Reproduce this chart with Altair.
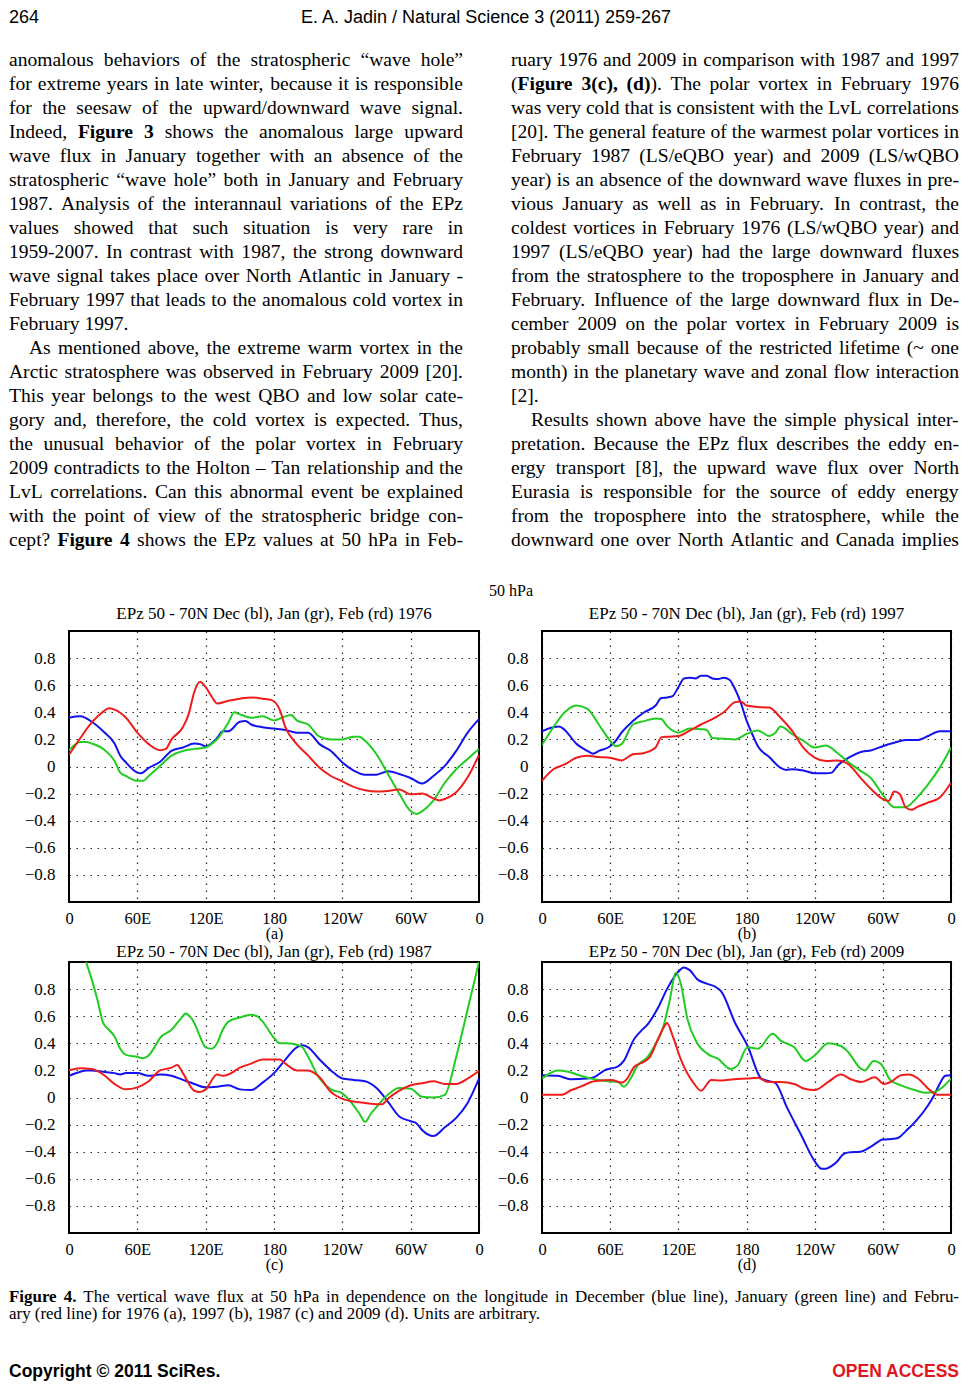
import altair as alt
import pandas as pd

# ------------------------------------------------------------------ chart data
# Panel (a) 1976
A_DEC_LON = [0,10,20,30,40,45,50,60,63,70,80,90,100,110,115,120,130,135,140,150,155,160,170,180,190,200,210,220,230,240,250,260,270,280,290,300,310,320,330,340,350,360]
A_DEC_VAL = [0.36,0.37,0.33,0.26,0.17,0.08,0.03,-0.045,-0.05,-0.01,0.035,0.115,0.14,0.17,0.165,0.15,0.21,0.26,0.26,0.33,0.335,0.31,0.29,0.28,0.27,0.25,0.25,0.165,0.115,0.03,-0.03,-0.06,-0.06,-0.035,-0.055,-0.085,-0.125,-0.07,0.005,0.115,0.25,0.35]
A_JAN_LON = [0,10,15,20,30,40,45,50,60,65,70,80,90,100,110,120,125,130,140,145,150,160,170,180,190,195,200,210,220,230,240,250,255,260,270,280,290,300,305,310,320,330,340,350,360]
A_JAN_VAL = [0.12,0.18,0.18,0.17,0.13,0.04,-0.045,-0.07,-0.105,-0.105,-0.07,0.005,0.08,0.115,0.13,0.14,0.165,0.2,0.325,0.4,0.385,0.36,0.37,0.34,0.37,0.38,0.34,0.31,0.22,0.2,0.2,0.22,0.22,0.19,0.09,-0.055,-0.2,-0.33,-0.35,-0.33,-0.25,-0.12,-0.02,0.055,0.13]
A_FEB_LON = [0,10,20,30,35,40,50,60,70,80,85,90,100,105,110,115,120,125,130,140,150,160,170,178,185,190,200,210,220,230,240,250,260,270,280,290,300,310,320,325,330,340,350,360]
A_FEB_VAL = [0.085,0.21,0.325,0.405,0.43,0.42,0.36,0.25,0.165,0.12,0.13,0.2,0.29,0.385,0.55,0.625,0.585,0.52,0.465,0.485,0.5,0.51,0.5,0.49,0.42,0.29,0.165,0.08,-0.01,-0.07,-0.11,-0.15,-0.175,-0.185,-0.18,-0.17,-0.205,-0.2,-0.235,-0.25,-0.24,-0.19,-0.08,0.085]

# Panel (b) 1997
B_DEC_LON = [0,10,15,20,30,40,45,50,60,65,70,80,90,100,105,110,115,120,125,130,135,140,145,150,155,160,165,170,175,180,185,190,200,210,215,220,230,240,250,255,260,270,280,290,300,310,320,330,340,350,360]
B_DEC_VAL = [0.26,0.29,0.295,0.27,0.17,0.115,0.095,0.115,0.15,0.19,0.25,0.335,0.4,0.45,0.505,0.51,0.52,0.585,0.65,0.655,0.65,0.67,0.67,0.65,0.645,0.655,0.64,0.57,0.47,0.34,0.24,0.15,0.07,-0.01,-0.025,-0.02,-0.03,-0.05,-0.05,-0.045,0.005,0.065,0.105,0.12,0.15,0.175,0.195,0.195,0.225,0.26,0.26]
B_JAN_LON = [0,10,20,30,40,50,60,65,70,80,90,100,105,110,120,130,140,145,150,160,170,180,190,200,205,210,220,230,240,250,260,270,280,290,300,310,320,330,340,350,360]
B_JAN_VAL = [0.16,0.29,0.4,0.45,0.425,0.31,0.19,0.15,0.165,0.31,0.335,0.355,0.35,0.3,0.25,0.28,0.275,0.27,0.21,0.205,0.2,0.24,0.265,0.225,0.245,0.295,0.24,0.19,0.14,0.155,0.1,0.03,-0.03,-0.09,-0.21,-0.3,-0.3,-0.23,-0.13,-0.01,0.14]
B_FEB_LON = [0,10,20,30,40,50,60,70,80,90,100,105,110,120,130,140,150,160,170,175,180,190,200,210,220,230,240,250,260,270,280,290,300,305,310,315,320,325,330,340,350,360]
B_FEB_VAL = [-0.105,-0.02,0.015,0.065,0.08,0.07,0.065,0.045,0.09,0.1,0.14,0.215,0.22,0.225,0.265,0.31,0.35,0.4,0.475,0.48,0.45,0.44,0.435,0.36,0.265,0.14,0.065,0.04,0.045,0.015,-0.08,-0.17,-0.24,-0.255,-0.185,-0.205,-0.3,-0.32,-0.3,-0.265,-0.23,-0.12]

# Panel (c) 1987
C_DEC_LON = [0,10,15,20,30,40,45,50,60,70,80,90,100,110,120,130,140,150,160,170,180,190,200,205,210,220,230,240,250,260,270,280,290,300,305,310,320,330,340,350,360]
C_DEC_VAL = [0.16,0.19,0.2,0.2,0.19,0.18,0.17,0.18,0.18,0.16,0.17,0.16,0.13,0.1,0.075,0.08,0.09,0.06,0.055,0.11,0.18,0.28,0.37,0.385,0.37,0.28,0.2,0.14,0.13,0.12,0.07,-0.03,-0.14,-0.175,-0.19,-0.24,-0.285,-0.22,-0.15,-0.04,0.14]
C_JAN_LON = [0,10,15,20,25,30,35,40,45,50,60,65,70,75,80,90,95,100,102,110,115,120,125,130,135,140,150,160,165,170,180,185,190,200,205,210,220,230,240,250,255,260,265,270,280,290,300,310,320,330,340,350,360]
C_JAN_VAL = [1.35,1.12,1.0,0.87,0.72,0.55,0.5,0.45,0.36,0.315,0.3,0.29,0.31,0.37,0.44,0.5,0.55,0.6,0.62,0.55,0.45,0.37,0.36,0.4,0.5,0.56,0.59,0.61,0.6,0.56,0.44,0.4,0.4,0.39,0.37,0.3,0.14,0.06,0.03,-0.06,-0.12,-0.18,-0.12,-0.07,0.02,0.07,0.065,0.005,0.0,0.02,0.3,0.65,1.0]
C_FEB_LON = [0,10,20,30,40,50,60,70,80,90,95,100,110,115,120,130,135,140,150,160,170,180,185,190,200,210,220,230,240,250,260,270,275,280,290,300,310,320,330,340,350,360]
C_FEB_VAL = [0.2,0.215,0.21,0.17,0.1,0.06,0.075,0.12,0.2,0.22,0.24,0.18,0.05,0.04,0.06,0.17,0.16,0.17,0.22,0.25,0.28,0.28,0.28,0.25,0.2,0.2,0.15,0.04,-0.01,-0.03,-0.04,-0.05,-0.05,-0.01,0.05,0.09,0.105,0.12,0.1,0.1,0.14,0.195]

# Panel (d) 2009
D_DEC_LON = [0,14,25,40,46,55,67,72,81,87,93,102,110,119,125,130,137,145,152,158,170,181,193,200,205,216,228,240,246,250,255,260,265,270,280,290,300,310,315,320,330,340,345,350,355,360]
D_DEC_VAL = [0.165,0.16,0.135,0.14,0.15,0.2,0.23,0.27,0.43,0.49,0.54,0.66,0.8,0.92,0.96,0.94,0.87,0.84,0.82,0.78,0.55,0.38,0.14,0.12,0.11,-0.08,-0.275,-0.47,-0.525,-0.525,-0.505,-0.47,-0.42,-0.405,-0.4,-0.36,-0.31,-0.305,-0.29,-0.25,-0.165,-0.055,0.015,0.1,0.16,0.165]
D_JAN_LON = [0,14,23,34,46,58,67,72,78,84,93,99,106,112,118,122,128,136,146,155,166,172,181,190,203,210,222,232,240,252,263,269,281,284,292,298,307,316,328,337,345,353,360]
D_JAN_VAL = [0.14,0.2,0.19,0.16,0.135,0.12,0.115,0.08,0.14,0.235,0.3,0.38,0.5,0.7,0.92,0.845,0.58,0.41,0.32,0.285,0.21,0.235,0.37,0.36,0.47,0.42,0.37,0.27,0.31,0.4,0.38,0.34,0.21,0.2,0.27,0.25,0.125,0.09,0.055,0.035,0.04,0.08,0.14]
D_FEB_LON = [0,17,26,34,46,61,70,75,81,90,95,102,108,110,115,122,134,140,149,158,169,181,190,199,210,222,231,240,252,263,272,281,293,301,307,316,323,331,340,348,360]
D_FEB_VAL = [0.02,0.02,0.055,0.08,0.12,0.13,0.11,0.14,0.225,0.265,0.3,0.43,0.53,0.55,0.455,0.285,0.1,0.05,0.13,0.125,0.135,0.14,0.145,0.115,0.115,0.1,0.065,0.055,0.115,0.17,0.135,0.115,0.15,0.1,0.115,0.165,0.17,0.14,0.065,0.02,0.02]

MONTHS = ["Dec", "Jan", "Feb"]
MONTH_COLORS = ["#1212ee", "#22cc22", "#f01c1c"]
LON_TICKS = [0, 60, 120, 180, 240, 300, 360]
VAL_TICKS = [-0.8, -0.6, -0.4, -0.2, 0, 0.2, 0.4, 0.6, 0.8]
PANEL_TITLES = ["EPz 50 - 70N Dec (bl), Jan (gr), Feb (rd) 1976",
                "EPz 50 - 70N Dec (bl), Jan (gr), Feb (rd) 1997",
                "EPz 50 - 70N Dec (bl), Jan (gr), Feb (rd) 1987",
                "EPz 50 - 70N Dec (bl), Jan (gr), Feb (rd) 2009"]
PANEL_LETTERS = ["(a)", "(b)", "(c)", "(d)"]

# ------------------------------------------------------------------ page text
HEADER_LEFT = "264"
HEADER_CENTER = "E. A. Jadin / Natural Science 3 (2011) 259-267"
LEFT_LINES = [
    "anomalous behaviors of the stratospheric \u201cwave hole\u201d",
    "for extreme years in late winter, because it is responsible",
    "for the seesaw of the upward/downward wave signal.",
    "Indeed, **Figure 3** shows the anomalous large upward",
    "wave flux in January together with an absence of the",
    "stratospheric \u201cwave hole\u201d both in January and February",
    "1987. Analysis of the interannaul variations of the EPz",
    "values showed that such situation is very rare in",
    "1959-2007. In contrast with 1987, the strong downward",
    "wave signal takes place over North Atlantic in January -",
    "February 1997 that leads to the anomalous cold vortex in",
    "February 1997.",
    "As mentioned above, the extreme warm vortex in the",
    "Arctic stratosphere was observed in February 2009 [20].",
    "This year belongs to the west QBO and low solar cate-",
    "gory and, therefore, the cold vortex is expected. Thus,",
    "the unusual behavior of the polar vortex in February",
    "2009 contradicts to the Holton \u2013 Tan relationship and the",
    "LvL correlations. Can this abnormal event be explained",
    "with the point of view of the stratospheric bridge con-",
    "cept? **Figure 4** shows the EPz values at 50 hPa in Feb-",
]
LEFT_INDENT = [12]
LEFT_LAST = [11]
RIGHT_LINES = [
    "ruary 1976 and 2009 in comparison with 1987 and 1997",
    "(**Figure 3(c), (d)**). The polar vortex in February 1976",
    "was very cold that is consistent with the LvL correlations",
    "[20]. The general feature of the warmest polar vortices in",
    "February 1987 (LS/eQBO year) and 2009 (LS/wQBO",
    "year) is an absence of the downward wave fluxes in pre-",
    "vious January as well as in February. In contrast, the",
    "coldest vortices in February 1976 (LS/wQBO year) and",
    "1997 (LS/eQBO year) had the large downward fluxes",
    "from the stratosphere to the troposphere in January and",
    "February. Influence of the large downward flux in De-",
    "cember 2009 on the polar vortex in February 2009 is",
    "probably small because of the restricted lifetime (~ one",
    "month) in the planetary wave and zonal flow interaction",
    "[2].",
    "Results shown above have the simple physical inter-",
    "pretation. Because the EPz flux describes the eddy en-",
    "ergy transport [8], the upward wave flux over North",
    "Eurasia is responsible for the source of eddy energy",
    "from the troposphere into the stratosphere, while the",
    "downward one over North Atlantic and Canada implies",
]
RIGHT_INDENT = [15]
RIGHT_LAST = [14]
FIG_LABEL = "50 hPa"
CAPTION_LINES = [
    "**Figure 4.** The vertical wave flux at 50 hPa in dependence on the longitude in December (blue line), January (green line) and Febru-",
    "ary (red line) for 1976 (a), 1997 (b), 1987 (c) and 2009 (d). Units are arbitrary.",
]
FOOTER_LEFT = "Copyright \u00a9 2011 SciRes."
FOOTER_RIGHT = "OPEN ACCESS"

SERIF = "Liberation Serif, Times New Roman, serif"
SANS = "Liberation Sans, Arial, sans-serif"

# ------------------------------------------------------------------ Times widths (1/1000 em), used for justification
_UP = "ABCDEFGHIJKLMNOPQRSTUVWXYZ"
_LO = "abcdefghijklmnopqrstuvwxyz"
TR = dict(zip(_UP, [722,667,667,722,611,556,722,722,333,389,722,611,889,722,722,556,722,667,556,611,722,722,944,722,722,611]))
TR.update(zip(_LO, [444,500,444,500,444,333,500,500,278,278,500,278,778,500,500,500,500,333,389,278,500,500,722,500,500,444]))
TB = dict(zip(_UP, [722,667,722,722,667,611,778,778,389,500,778,667,944,722,778,611,778,722,556,667,722,722,1000,722,722,667]))
TB.update(zip(_LO, [500,556,444,556,444,333,500,556,278,333,556,278,833,556,500,556,556,444,389,333,556,500,722,500,500,444]))
_PUN = {' ': 250, '(': 333, ')': 333, ',': 250, '.': 250, '-': 333, '/': 278, ':': 278, ';': 278,
        '?': 444, '[': 333, ']': 333, '~': 541, '\u201c': 444, '\u201d': 444, '\u2013': 500, '\u00a9': 760}
for d in (TR, TB):
    d.update(_PUN)
    d.update({c: 500 for c in "0123456789"})


def tw(s, bold):
    t = TB if bold else TR
    return sum(t.get(c, 500) for c in s)


def parse(line, state):
    words = []
    for w in line.split(' '):
        parts = w.split('**')
        segs = []
        for j, p in enumerate(parts):
            if j > 0:
                state[0] = not state[0]
            if p:
                segs.append((p, state[0]))
        words.append(segs)
    return words


def fit_size(lines, x0, x1, indent_idx, last_idx, cap):
    st = [False]
    best = cap
    for i, line in enumerate(lines):
        words = parse(line, st)
        if i in last_idx or len(words) < 2:
            continue
        avail = x1 - x0 - (20 if i in indent_idx else 0)
        em = sum(tw(s, b) for segs in words for s, b in segs) + 250 * (len(words) - 1)
        best = min(best, avail * 1000.0 / em)
    return best


def justify(lines, x0, x1, y0, dy, fs, indent_idx, last_idx):
    normal, bold = [], []
    st = [False]
    for i, line in enumerate(lines):
        words = parse(line, st)
        left = x0 + (20 if i in indent_idx else 0)
        widths = [sum(tw(s, b) for s, b in segs) * fs / 1000.0 for segs in words]
        n = len(words)
        if i in last_idx or n < 2:
            gap = 250 * fs / 1000.0
        else:
            gap = (x1 - left - sum(widths)) / (n - 1)
        x = left
        for segs, w in zip(words, widths):
            sx = x
            for s, b in segs:
                (bold if b else normal).append({'x': sx, 'y': y0 + i * dy, 't': s})
                sx += tw(s, b) * fs / 1000.0
            x += w + gap
    return normal, bold


def text_layer(rows, align='left', **kw):
    df = pd.DataFrame(rows, columns=['x', 'y', 't'])
    return alt.Chart(df).mark_text(align=align, baseline='alphabetic', **kw).encode(
        x=alt.X('x:Q', scale=None, axis=None),
        y=alt.Y('y:Q', scale=None, axis=None),
        text='t:N')


def blank(w, h):
    # an invisible spacer cell; its single hidden point sits well inside the cell
    return alt.Chart(pd.DataFrame({'x': [min(w, h) / 2.0]})).mark_point(opacity=0, size=1).encode(
        x=alt.X('x:Q', scale=None, axis=None), y=alt.Y('x:Q', scale=None, axis=None)
    ).properties(width=w, height=h)


# ------------------------------------------------------------------ grid geometry (page is 952 px wide)
COL_W = [60, 410, 63, 409]
ROW_H = [622, 271, 60, 271, 148]
LEFT_X = (0, 454)
RIGHT_X = (502, 950)

# ------------------------------------------------------------------ top text block
body_fs = min(fit_size(LEFT_LINES, LEFT_X[0], LEFT_X[1], LEFT_INDENT, LEFT_LAST, 20),
              fit_size(RIGHT_LINES, RIGHT_X[0], RIGHT_X[1], RIGHT_INDENT, RIGHT_LAST, 20))
ln, lb = justify(LEFT_LINES, LEFT_X[0], LEFT_X[1], 57, 24, body_fs, LEFT_INDENT, LEFT_LAST)
rn, rb = justify(RIGHT_LINES, RIGHT_X[0], RIGHT_X[1], 57, 24, body_fs, RIGHT_INDENT, RIGHT_LAST)

top = alt.layer(
    text_layer([{'x': 0, 'y': 14, 't': HEADER_LEFT}], font=SANS, fontSize=18, color='black'),
    text_layer([{'x': 477, 'y': 14, 't': HEADER_CENTER}], align='center', font=SANS, fontSize=18, color='black'),
    text_layer(ln + rn, font=SERIF, fontSize=body_fs, color='black'),
    text_layer(lb + rb, font=SERIF, fontSize=body_fs, fontWeight='bold', color='black'),
    text_layer([{'x': 480, 'y': 587, 't': FIG_LABEL}], font=SERIF, fontSize=16, color='black'),
).properties(width=COL_W[0], height=ROW_H[0])

# ------------------------------------------------------------------ bottom text block
cap_fs = fit_size(CAPTION_LINES[:1], 0, RIGHT_X[1], [], [], 17) * 0.995
cn, cb = justify(CAPTION_LINES, 0, RIGHT_X[1], 69, 17, cap_fs, [], [1])
bottom = alt.layer(
    text_layer(cn, font=SERIF, fontSize=cap_fs, color='black'),
    text_layer(cb, font=SERIF, fontSize=cap_fs, fontWeight='bold', color='black'),
    text_layer([{'x': 0, 'y': 144, 't': FOOTER_LEFT}], font=SANS, fontSize=17.5, fontWeight='bold', color='black'),
    text_layer([{'x': 950, 'y': 144, 't': FOOTER_RIGHT}], align='right', font=SANS, fontSize=17.5,
               fontWeight='bold', color='#e2161e'),
).properties(width=COL_W[0], height=ROW_H[4])

# ------------------------------------------------------------------ panels
LON_EXPR = ("datum.value == 0 || datum.value == 360 ? '0' : datum.value < 180 ? datum.value + 'E' : "
            "datum.value == 180 ? '180' : (360 - datum.value) + 'W'")
VAL_EXPR = "datum.value == 0 ? '0' : replace(format(datum.value, '.1f'), '-', '\u2212')"
GRID = dict(grid=True, gridDash=[1.5, 5.5], gridColor='black', gridOpacity=0.85, gridWidth=1.2, domain=False)


def panel(series, title, letter, tdy, width):
    rows = []
    for name, lons, vals in series:
        for lo, v in zip(lons, vals):
            rows.append({'lon': lo, 'val': v, 'month': name})
    df = pd.DataFrame(rows)
    return alt.Chart(df).mark_line(strokeWidth=2, interpolate='monotone', clip=True).encode(
        x=alt.X('lon:Q', scale=alt.Scale(domain=[0, 360], nice=False, zero=False),
                axis=alt.Axis(values=LON_TICKS, labelExpr=LON_EXPR, title=letter, ticks=False,
                              labelFont=SERIF, labelFontSize=16.5, labelColor='black', labelPadding=8,
                              labelFlush=False, labelOverlap=False,
                              titleFont=SERIF, titleFontSize=16, titleFontWeight='normal',
                              titleColor='black', titlePadding=-1, **GRID)),
        y=alt.Y('val:Q', scale=alt.Scale(domain=[-1, 1], nice=False, zero=False),
                axis=alt.Axis(values=VAL_TICKS, labelExpr=VAL_EXPR, title=None, ticks=False,
                              labelFont=SERIF, labelFontSize=17, labelColor='black', labelPadding=14,
                              labelOverlap=False, **GRID)),
        color=alt.Color('month:N', scale=alt.Scale(domain=MONTHS, range=MONTH_COLORS), legend=None),
        order=alt.Order('lon:Q'),
    ).properties(
        width=width, height=ROW_H[1],
        title=alt.TitleParams(title, font=SERIF, fontSize=17, fontWeight='normal', color='black',
                              baseline='alphabetic', offset=0, dy=tdy, anchor='middle'),
        view=alt.ViewBackground(stroke='black', strokeWidth=2),
    )


pa = panel([("Dec", A_DEC_LON, A_DEC_VAL), ("Jan", A_JAN_LON, A_JAN_VAL), ("Feb", A_FEB_LON, A_FEB_VAL)],
           PANEL_TITLES[0], PANEL_LETTERS[0], 5, COL_W[1])
pb = panel([("Dec", B_DEC_LON, B_DEC_VAL), ("Jan", B_JAN_LON, B_JAN_VAL), ("Feb", B_FEB_LON, B_FEB_VAL)],
           PANEL_TITLES[1], PANEL_LETTERS[1], 5, COL_W[3])
pc = panel([("Dec", C_DEC_LON, C_DEC_VAL), ("Jan", C_JAN_LON, C_JAN_VAL), ("Feb", C_FEB_LON, C_FEB_VAL)],
           PANEL_TITLES[2], PANEL_LETTERS[2], 11.5, COL_W[1])
pd_ = panel([("Dec", D_DEC_LON, D_DEC_VAL), ("Jan", D_JAN_LON, D_JAN_VAL), ("Feb", D_FEB_LON, D_FEB_VAL)],
            PANEL_TITLES[3], PANEL_LETTERS[3], 11.5, COL_W[3])

cells = [
    top, blank(COL_W[1], ROW_H[0]), blank(COL_W[2], ROW_H[0]), blank(COL_W[3], ROW_H[0]),
    blank(COL_W[0], ROW_H[1]), pa, blank(COL_W[2], ROW_H[1]), pb,
    blank(COL_W[0], ROW_H[2]), blank(COL_W[1], ROW_H[2]), blank(COL_W[2], ROW_H[2]), blank(COL_W[3], ROW_H[2]),
    blank(COL_W[0], ROW_H[3]), pc, blank(COL_W[2], ROW_H[3]), pd_,
    bottom, blank(COL_W[1], ROW_H[4]), blank(COL_W[2], ROW_H[4]), blank(COL_W[3], ROW_H[4]),
]

chart = alt.concat(*cells, columns=4, spacing=0, bounds='flush', align='each').properties(
    padding=0
).configure(font=SERIF).configure_view(stroke='transparent')

chart.save("out.html", embed_options={"renderer": "svg", "actions": False})
